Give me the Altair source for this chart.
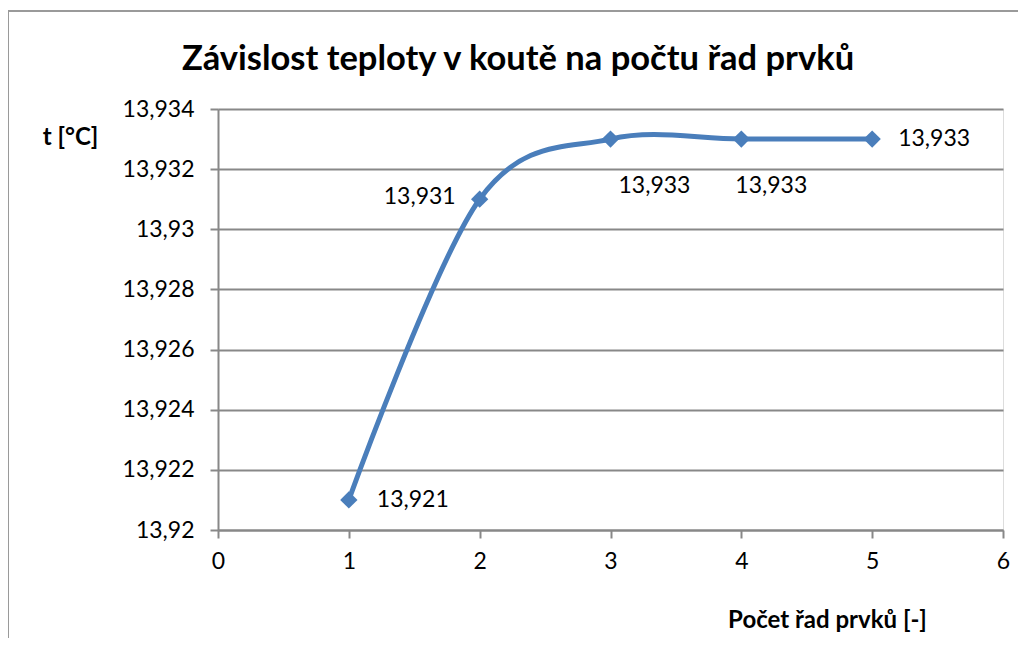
import altair as alt
import pandas as pd

x_vals = [1, 2, 3, 4, 5]
y_vals = [13.921, 13.931, 13.933, 13.933, 13.933]
labels = ["13,921", "13,931", "13,933", "13,933", "13,933"]
y_ticks = [13.92, 13.922, 13.924, 13.926, 13.928, 13.93, 13.932, 13.934]
x_ticks = [0, 1, 2, 3, 4, 5, 6]

title = "Závislost teploty v koutě na počtu řad prvků"
x_title = "Počet řad prvků [-]"
y_title = "t [°C]"

df = pd.DataFrame({"x": x_vals, "y": y_vals, "label": labels, "i": list(range(len(x_vals)))})
tdf = pd.DataFrame({"t": [title]})

FONT = "Lato"
BLUE = "#4A7EBB"
GRID = "#888888"

xs = alt.Scale(domain=[0, 6], nice=False, zero=False)
ys = alt.Scale(domain=[13.92, 13.934], nice=False, zero=False)

x_enc = alt.X("x:Q", scale=xs, axis=alt.Axis(
    values=x_ticks, format="d", title=x_title, grid=False, domainColor=GRID, domainWidth=2,
    tickColor=GRID, tickWidth=2, tickSize=8, labelFontSize=23, labelFont=FONT,
    labelColor="black", labelPadding=12, titleFont=FONT, titleFontSize=24,
    titleFontWeight="bold", titleColor="black", titleX=609, titleY=90,
    titleAlign="center", titleBaseline="middle", labelFlush=False))
y_enc = alt.Y("y:Q", scale=ys, axis=alt.Axis(
    values=y_ticks, title=y_title, grid=True, gridColor=GRID, gridWidth=2,
    domainColor=GRID, domainWidth=2, tickColor=GRID, tickWidth=2, tickSize=8,
    labelFontSize=23, labelFont=FONT, labelColor="black", labelPadding=16,
    labelExpr="replace(format(datum.value, '.3~f'), '.', ',')",
    titleFont=FONT, titleFontSize=24, titleFontWeight="bold", titleColor="black",
    titleAngle=0, titleX=-148, titleY=28, titleAlign="center", titleBaseline="middle"))

base = alt.Chart(df)

frame_top = alt.Chart(tdf).mark_rule(stroke="#9a9a9a", strokeWidth=2).encode(
    x=alt.value(-210), x2=alt.value(900), y=alt.value(-98))
frame_left = alt.Chart(tdf).mark_rule(stroke="#9a9a9a", strokeWidth=2).encode(
    x=alt.value(-210), y=alt.value(-98), y2=alt.value(700))

title_mark = alt.Chart(tdf).mark_text(
    font=FONT, fontSize=34.5, fontWeight="bold", color="black", align="center", baseline="middle"
).encode(text="t:N", x=alt.value(300), y=alt.value(-49))

line = base.mark_line(color=BLUE, strokeWidth=5, interpolate="cardinal").encode(x=x_enc, y=y_enc)
pts = base.mark_point(shape="diamond", filled=True, color=BLUE, size=300, opacity=1).encode(x="x:Q", y="y:Q")

def lab(idx, align, dx, dy):
    return base.transform_filter(alt.FieldOneOfPredicate(field="i", oneOf=idx)).mark_text(
        font=FONT, fontSize=23, color="black", align=align, baseline="middle", dx=dx, dy=dy
    ).encode(x="x:Q", y="y:Q", text="label:N")

texts = [lab([0], "left", 28, 0), lab([1], "right", -24, -2), lab([2], "left", 8, 47),
         lab([3], "left", -6, 47), lab([4], "left", 26, 0)]

chart = alt.layer(frame_top, frame_left, line, pts, *texts, title_mark).properties(
    width=785, height=421,
    padding={"left": 210, "top": 101, "right": 15, "bottom": 108},
    autosize=alt.AutoSizeParams(type="none"),
).configure_view(stroke=None).configure(background="white")

chart.save("out.html", embed_options={"renderer": "svg", "actions": False})
